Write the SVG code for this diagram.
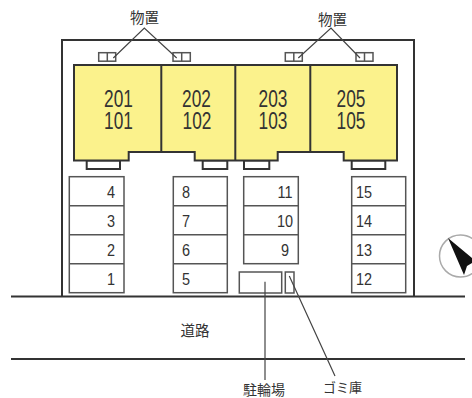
<svg xmlns="http://www.w3.org/2000/svg" width="472" height="398" viewBox="0 0 472 398">
<style>
.bg{fill:#fff}
.wall{fill:none;stroke:#333;stroke-width:2}
.unit{fill:#fbf28c;stroke:#333;stroke-width:2}
.box{fill:#fff;stroke:#555;stroke-width:1.5}
.sub{fill:none;stroke:#555;stroke-width:1.5}
.lead{fill:none;stroke:#444;stroke-width:1.2}
text{font-family:"Liberation Sans","Noto Sans CJK JP",sans-serif;fill:#333;text-anchor:middle}
.big{font-size:24px}
.num{font-size:17px}
.jp{font-size:14.5px}
</style>
<rect class="bg" width="472" height="398"/>
<g id="site">
<path class="wall" d="M62 296.5V40H414V296.5"/>
</g>
<g id="road">
<path class="wall" d="M11 296.5H465M11 359H465"/>
<text class="jp" x="195" y="336">道路</text>
</g>
<g id="storage-1"><rect class="box" x="98.7" y="52.7" width="17" height="8.5"/><path class="sub" d="M107.3 52.7V61.2"/></g>
<g id="storage-2"><rect class="box" x="173" y="52.7" width="17.3" height="8.5"/><path class="sub" d="M181.7 52.7V61.2"/></g>
<g id="storage-3"><rect class="box" x="285.3" y="52.7" width="17" height="8.5"/><path class="sub" d="M293.8 52.7V61.2"/></g>
<g id="storage-4"><rect class="box" x="356" y="52.7" width="17" height="8.5"/><path class="sub" d="M364.5 52.7V61.2"/></g>
<g id="balconies">
<rect class="wall" x="86.7" y="160.5" width="33.3" height="8.5"/>
<rect class="wall" x="202.7" y="160.5" width="24.6" height="8.5"/>
<rect class="wall" x="244" y="160.5" width="25.3" height="8.5"/>
<rect class="wall" x="351.7" y="160.5" width="33.6" height="8.5"/>
</g>
<g id="building">
<path class="unit" d="M74 65H397V160.5H343.7V152H277.7V160.5H194.7V152H128.7V160.5H74Z"/>
<path class="wall" d="M161.3 65V152M235.3 65V160.5M310.3 65V152"/>
</g>
<g id="unit-201-101"><text class="big" transform="translate(118.5 107) scale(.72 1)">201</text><text class="big" transform="translate(118.5 129) scale(.72 1)">101</text></g>
<g id="unit-202-102"><text class="big" transform="translate(196.5 107) scale(.72 1)">202</text><text class="big" transform="translate(197 129) scale(.72 1)">102</text></g>
<g id="unit-203-103"><text class="big" transform="translate(273 107) scale(.72 1)">203</text><text class="big" transform="translate(273 129) scale(.72 1)">103</text></g>
<g id="unit-205-105"><text class="big" transform="translate(351 107) scale(.72 1)">205</text><text class="big" transform="translate(351 129) scale(.72 1)">105</text></g>
<g id="parking-1-4">
<rect class="box" x="69.3" y="176.7" width="54.7" height="116"/><path class="sub" d="M69.3 205.7H124M69.3 234.7H124M69.3 263.7H124"/>
<text class="num" transform="translate(111 198) scale(.85 1)">4</text><text class="num" transform="translate(111 227) scale(.85 1)">3</text><text class="num" transform="translate(111 256) scale(.85 1)">2</text><text class="num" transform="translate(111 285) scale(.85 1)">1</text>
</g>
<g id="parking-5-8">
<rect class="box" x="173.3" y="176.7" width="54" height="116"/><path class="sub" d="M173.3 205.7H227.3M173.3 234.7H227.3M173.3 263.7H227.3"/>
<text class="num" transform="translate(186 198) scale(.85 1)">8</text><text class="num" transform="translate(186 227) scale(.85 1)">7</text><text class="num" transform="translate(186 256) scale(.85 1)">6</text><text class="num" transform="translate(186 285) scale(.85 1)">5</text>
</g>
<g id="parking-9-11">
<rect class="box" x="243.7" y="176.7" width="54.6" height="87"/><path class="sub" d="M243.7 205.7H298.3M243.7 234.7H298.3"/>
<text class="num" transform="translate(285 198) scale(.85 1)">11</text><text class="num" transform="translate(285 227) scale(.85 1)">10</text><text class="num" transform="translate(285 256) scale(.85 1)">9</text>
</g>
<g id="parking-12-15">
<rect class="box" x="351.7" y="176.7" width="54" height="116"/><path class="sub" d="M351.7 205.7H405.7M351.7 234.7H405.7M351.7 263.7H405.7"/>
<text class="num" transform="translate(364 198) scale(.85 1)">15</text><text class="num" transform="translate(364 227) scale(.85 1)">14</text><text class="num" transform="translate(364 256) scale(.85 1)">13</text><text class="num" transform="translate(364 285) scale(.85 1)">12</text>
</g>
<g id="bicycle-parking"><rect class="box" x="239.3" y="272" width="42.4" height="21"/></g>
<g id="garbage"><rect class="box" x="285.3" y="272" width="8.7" height="21"/></g>
<g id="connectors">
<path class="lead" d="M113.3 58L144.3 28L176.7 58M298.3 58L331 28L360 58"/>
<path class="lead" d="M265 281.7V380M289.3 276L335 376"/>
</g>
<g id="labels">
<text class="jp" x="144.5" y="23">物置</text>
<text class="jp" x="332.5" y="25">物置</text>
<text class="jp" x="264" y="395" style="font-size:14px">駐輪場</text>
<text class="jp" x="342.5" y="392" style="font-size:13px">ゴミ庫</text>
</g>
<g id="compass">
<circle cx="460.5" cy="256" r="21" fill="#fff" stroke="#aaa" stroke-width="1.5"/>
<path d="M448 238L472 258V263L467 266L464 275Z" fill="#111"/>
</g>
</svg>
